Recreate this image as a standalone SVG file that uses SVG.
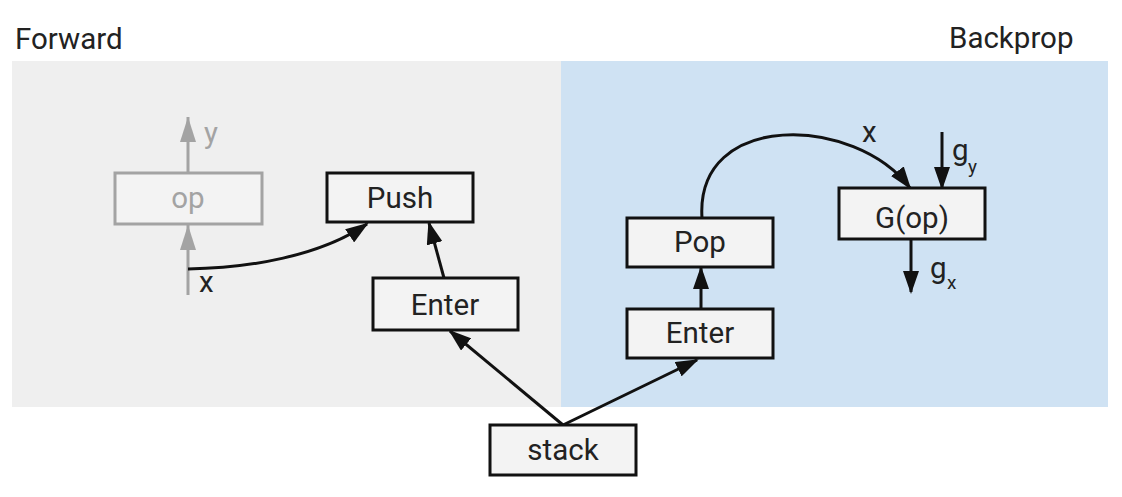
<svg xmlns="http://www.w3.org/2000/svg" width="1122" height="497" viewBox="0 0 1122 497">
<style>
text{font-family:Roboto,"Liberation Sans",sans-serif;font-size:29.5px;fill:#222}
.box{fill:#f3f3f3;stroke:#111;stroke-width:3}
.gbox{fill:#f3f3f3;stroke:#a3a3a3;stroke-width:3}
.c{text-anchor:middle}
.ln{fill:none;stroke:#111;stroke-width:3}
.gl{fill:none;stroke:#a3a3a3;stroke-width:3}
.sub{font-size:19px}
</style>
<defs>
<marker id="ah" markerUnits="userSpaceOnUse" markerWidth="23" markerHeight="16" refX="21" refY="8" orient="auto"><path d="M0,0 L23,8 L0,16 z" fill="#111"/></marker>
<marker id="gh" markerUnits="userSpaceOnUse" markerWidth="26" markerHeight="16" refX="25" refY="8" orient="auto"><path d="M0,0 L25,8 L0,16 z" fill="#a3a3a3"/></marker>
</defs>
<rect x="12" y="61" width="549" height="346" fill="#efefef"/>
<rect x="561" y="61" width="547" height="346" fill="#cfe2f3"/>
<text x="15" y="49">Forward</text>
<text x="949" y="48">Backprop</text>
<g id="connectors">
<line class="gl" x1="188" y1="173" x2="188" y2="117" marker-end="url(#gh)"/>
<line class="gl" x1="188" y1="295" x2="188" y2="225" marker-end="url(#gh)"/>
<path class="ln" d="M188,269 C250,268 320,256 367,224" marker-end="url(#ah)"/>
<line class="ln" x1="444" y1="278" x2="429" y2="223" marker-end="url(#ah)"/>
<line class="ln" x1="563" y1="425" x2="450" y2="331" marker-end="url(#ah)"/>
<line class="ln" x1="563" y1="425" x2="697" y2="360" marker-end="url(#ah)"/>
<line class="ln" x1="701" y1="309" x2="701" y2="268" marker-end="url(#ah)"/>
<path class="ln" d="M702,218 C695,110 855,115 910,188" marker-end="url(#ah)"/>
<line class="ln" x1="942" y1="132" x2="942" y2="188" marker-end="url(#ah)"/>
<line class="ln" x1="911" y1="239" x2="911" y2="292" marker-end="url(#ah)"/>
</g>
<g id="labels">
<text x="204" y="143" style="fill:#a3a3a3">y</text>
<text x="199" y="292">x</text>
<text x="862" y="142">x</text>
<text x="952" y="160">g</text><text class="sub" x="968" y="173">y</text>
<text x="930" y="278">g</text><text class="sub" x="947" y="289">x</text>
</g>
<g id="op"><rect class="gbox" x="115" y="173" width="147" height="51"/><text class="c" x="188" y="208" style="fill:#a3a3a3">op</text></g>
<g id="push"><rect class="box" x="327" y="173" width="146" height="49"/><text class="c" x="400" y="208">Push</text></g>
<g id="enter1"><rect class="box" x="373" y="278" width="145" height="52"/><text class="c" x="445" y="315">Enter</text></g>
<g id="stack"><rect class="box" x="490" y="425" width="146" height="50"/><text class="c" x="563" y="460">stack</text></g>
<g id="pop"><rect class="box" x="627" y="218" width="146" height="49"/><text class="c" x="700" y="252">Pop</text></g>
<g id="enter2"><rect class="box" x="627" y="309" width="146" height="49"/><text class="c" x="700" y="343">Enter</text></g>
<g id="gop"><rect class="box" x="839" y="188" width="146" height="51"/><text class="c" x="912" y="228">G(op)</text></g>
</svg>
